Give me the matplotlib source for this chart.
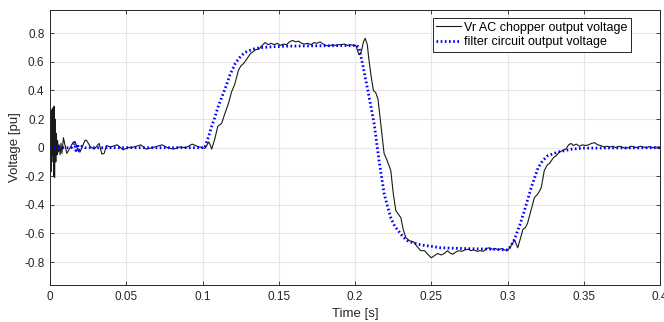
import matplotlib
matplotlib.use("Agg")
import matplotlib.pyplot as plt

# Vr AC chopper output voltage (black)
t_vr = [0.0, 0.0003, 0.0006, 0.0009, 0.0012, 0.0015, 0.0018, 0.0021, 0.0024, 0.0027,
        0.003, 0.0034, 0.0038, 0.0042, 0.0046, 0.005, 0.0055, 0.006, 0.0066, 0.0072,
        0.0078, 0.0088, 0.011, 0.0153, 0.0164, 0.0186, 0.0197, 0.023, 0.024, 0.0265,
        0.029, 0.0322, 0.034, 0.0355, 0.037, 0.0398, 0.044, 0.048, 0.051, 0.055,
        0.0596, 0.063, 0.067, 0.0735, 0.077, 0.081, 0.085, 0.089, 0.0932, 0.097,
        0.1, 0.1015, 0.103, 0.104, 0.105, 0.106, 0.108, 0.110, 0.1125, 0.115,
        0.117, 0.119, 0.121, 0.1235, 0.125, 0.127, 0.129, 0.1315, 0.133, 0.1347,
        0.137, 0.139, 0.141, 0.143, 0.145, 0.147, 0.149, 0.151, 0.153, 0.155,
        0.157, 0.159, 0.161, 0.163, 0.165, 0.167, 0.169, 0.171, 0.173, 0.175,
        0.177, 0.179, 0.181, 0.183, 0.185, 0.187, 0.189, 0.191, 0.193, 0.195,
        0.197, 0.199, 0.2005, 0.2025, 0.204, 0.2055, 0.2066, 0.208, 0.209, 0.2105,
        0.212, 0.2135, 0.215, 0.217, 0.219, 0.221, 0.2234, 0.225, 0.2267, 0.228,
        0.23, 0.2315, 0.2333, 0.2355, 0.2385, 0.2405, 0.243, 0.2455, 0.248, 0.25,
        0.252, 0.254, 0.2565, 0.2585, 0.2606, 0.262, 0.264, 0.266, 0.268, 0.27,
        0.272, 0.274, 0.276, 0.278, 0.28, 0.282, 0.284, 0.286, 0.288, 0.29,
        0.292, 0.294, 0.296, 0.298, 0.3, 0.302, 0.3045, 0.3066, 0.3085, 0.31,
        0.3115, 0.313, 0.315, 0.3175, 0.32, 0.322, 0.324, 0.326, 0.3274, 0.33,
        0.3318, 0.334, 0.336, 0.338, 0.34, 0.3416, 0.343, 0.345, 0.347, 0.349,
        0.351, 0.353, 0.355, 0.357, 0.359, 0.361, 0.363, 0.365, 0.367, 0.369,
        0.371, 0.373, 0.375, 0.377, 0.379, 0.381, 0.383, 0.385, 0.387, 0.389,
        0.391, 0.393, 0.395, 0.397, 0.4]
v_vr = [0.0, 0.22, -0.17, 0.26, -0.1, 0.27, -0.05, 0.28, -0.2, 0.29,
        -0.21, 0.2, -0.1, 0.1, -0.05, 0.05, -0.03, 0.02, -0.05, 0.03,
        -0.04, 0.07, -0.04, 0.04, 0.043, -0.027, -0.03, 0.053, 0.05, 0.006,
        -0.01, 0.03, -0.045, -0.04, 0.015, 0.005, 0.02, -0.015, 0.0, 0.005,
        0.02, -0.01, 0.0, 0.02, 0.0, -0.01, 0.005, 0.0, 0.025, 0.008,
        0.0, -0.005, 0.02, 0.04, 0.02, -0.01, 0.06, 0.15, 0.17, 0.25,
        0.31, 0.39, 0.44, 0.54, 0.57, 0.59, 0.62, 0.66, 0.67, 0.685,
        0.69, 0.715, 0.735, 0.72, 0.73, 0.72, 0.73, 0.715, 0.725, 0.72,
        0.74, 0.75, 0.74, 0.745, 0.73, 0.725, 0.73, 0.72, 0.735, 0.73,
        0.74, 0.725, 0.715, 0.71, 0.72, 0.715, 0.72, 0.72, 0.725, 0.715,
        0.72, 0.715, 0.715, 0.65, 0.67, 0.74, 0.765, 0.72, 0.62, 0.5,
        0.40, 0.385, 0.34, 0.15, -0.04, -0.09, -0.16, -0.32, -0.44, -0.46,
        -0.49, -0.57, -0.63, -0.65, -0.66, -0.69, -0.72, -0.72, -0.75, -0.77,
        -0.755, -0.74, -0.75, -0.74, -0.72, -0.735, -0.745, -0.73, -0.72, -0.725,
        -0.715, -0.71, -0.72, -0.715, -0.725, -0.72, -0.725, -0.705, -0.70, -0.71,
        -0.705, -0.715, -0.705, -0.715, -0.72, -0.69, -0.645, -0.70, -0.63, -0.57,
        -0.56, -0.53, -0.45, -0.35, -0.32, -0.28, -0.16, -0.12, -0.11, -0.07,
        -0.056, -0.03, -0.02, -0.01, 0.02, 0.03, 0.015, 0.025, 0.01, 0.02,
        0.015, 0.02, 0.03, 0.035, 0.02, 0.015, 0.005, 0.01, 0.005, 0.01,
        0.0, 0.01, 0.005, -0.005, 0.0, 0.01, 0.005, 0.0, 0.01, 0.005,
        0.0, 0.008, 0.0, 0.005, 0.0]

# filter circuit output voltage (blue dotted)
t_flt = [0.0, 0.014, 0.016, 0.017, 0.018, 0.019, 0.021, 0.023, 0.1, 0.1015,
         0.104, 0.106, 0.108, 0.110, 0.1125, 0.115, 0.118, 0.1215, 0.125, 0.128,
         0.132, 0.135, 0.139, 0.145, 0.155, 0.17, 0.19, 0.201, 0.2026, 0.205,
         0.208, 0.2105, 0.2125, 0.2157, 0.219, 0.2215, 0.2234, 0.226, 0.229, 0.2315,
         0.2343, 0.238, 0.243, 0.25, 0.256, 0.27, 0.29, 0.3, 0.302, 0.3045,
         0.308, 0.311, 0.3154, 0.318, 0.32, 0.323, 0.3263, 0.333, 0.342, 0.35, 0.4]
v_flt = [0.0, 0.0, 0.03, -0.02, 0.025, -0.015, 0.01, 0.0, 0.0, 0.0,
         0.08, 0.15, 0.21, 0.28, 0.35, 0.42, 0.51, 0.59, 0.64, 0.667,
         0.685, 0.695, 0.70, 0.705, 0.71, 0.712, 0.714, 0.715, 0.70, 0.58,
         0.42, 0.28, 0.166, -0.09, -0.32, -0.42, -0.49, -0.55, -0.59, -0.625,
         -0.65, -0.665, -0.68, -0.69, -0.70, -0.705, -0.71, -0.715, -0.69, -0.64,
         -0.54, -0.44, -0.28, -0.2, -0.14, -0.09, -0.056, -0.03, -0.01, -0.003, 0.0]

labels = ["Vr AC chopper output voltage", "filter circuit output voltage"]
x_ticks = [0, 0.05, 0.1, 0.15, 0.2, 0.25, 0.3, 0.35, 0.4]
x_ticklabels = ["0", "0.05", "0.1", "0.15", "0.2", "0.25", "0.3", "0.35", "0.4"]
y_ticks = [-0.8, -0.6, -0.4, -0.2, 0, 0.2, 0.4, 0.6, 0.8]
y_ticklabels = ["-0.8", "-0.6", "-0.4", "-0.2", "0", "0.2", "0.4", "0.6", "0.8"]

plt.rcParams['font.family'] = ['Liberation Sans', 'DejaVu Sans']

fig = plt.figure(figsize=(6.64, 3.22), dpi=100)
ax = fig.add_axes([0.0753, 0.115, 0.919, 0.854])

ax.plot(t_vr, v_vr, color='#1a1a1a', lw=0.8, label=labels[0])
ax.plot(t_flt, v_flt, color='blue', lw=2.0, linestyle=(0, (0.6, 0.9)), label=labels[1])

ax.set_xlim(0, 0.4)
ax.set_ylim(-0.96, 0.963)
ax.set_xticks(x_ticks)
ax.set_xticklabels(x_ticklabels)
ax.set_yticks(y_ticks)
ax.set_yticklabels(y_ticklabels)
ax.grid(True, color='#e6e6e6', lw=0.8)
ax.set_axisbelow(True)
ax.tick_params(direction='in', top=True, right=True, length=3, width=0.6,
               colors='#262626', labelsize=8.5, pad=4)
for s in ax.spines.values():
    s.set_color('#262626')
    s.set_linewidth(0.7)
ax.set_xlabel("Time [s]", fontsize=9.5, color='#262626', labelpad=4)
ax.set_ylabel("Voltage [pu]", fontsize=9.5, color='#262626', labelpad=2)

leg = ax.legend(loc='upper right', bbox_to_anchor=(0.952, 0.971), fontsize=9,
                handlelength=2.0, handletextpad=0.2, borderpad=0.3,
                labelspacing=0.2, fancybox=False, framealpha=1, borderaxespad=0)
leg.get_frame().set_edgecolor('#262626')
leg.get_frame().set_linewidth(0.7)

fig.savefig("out.png", dpi=100)
